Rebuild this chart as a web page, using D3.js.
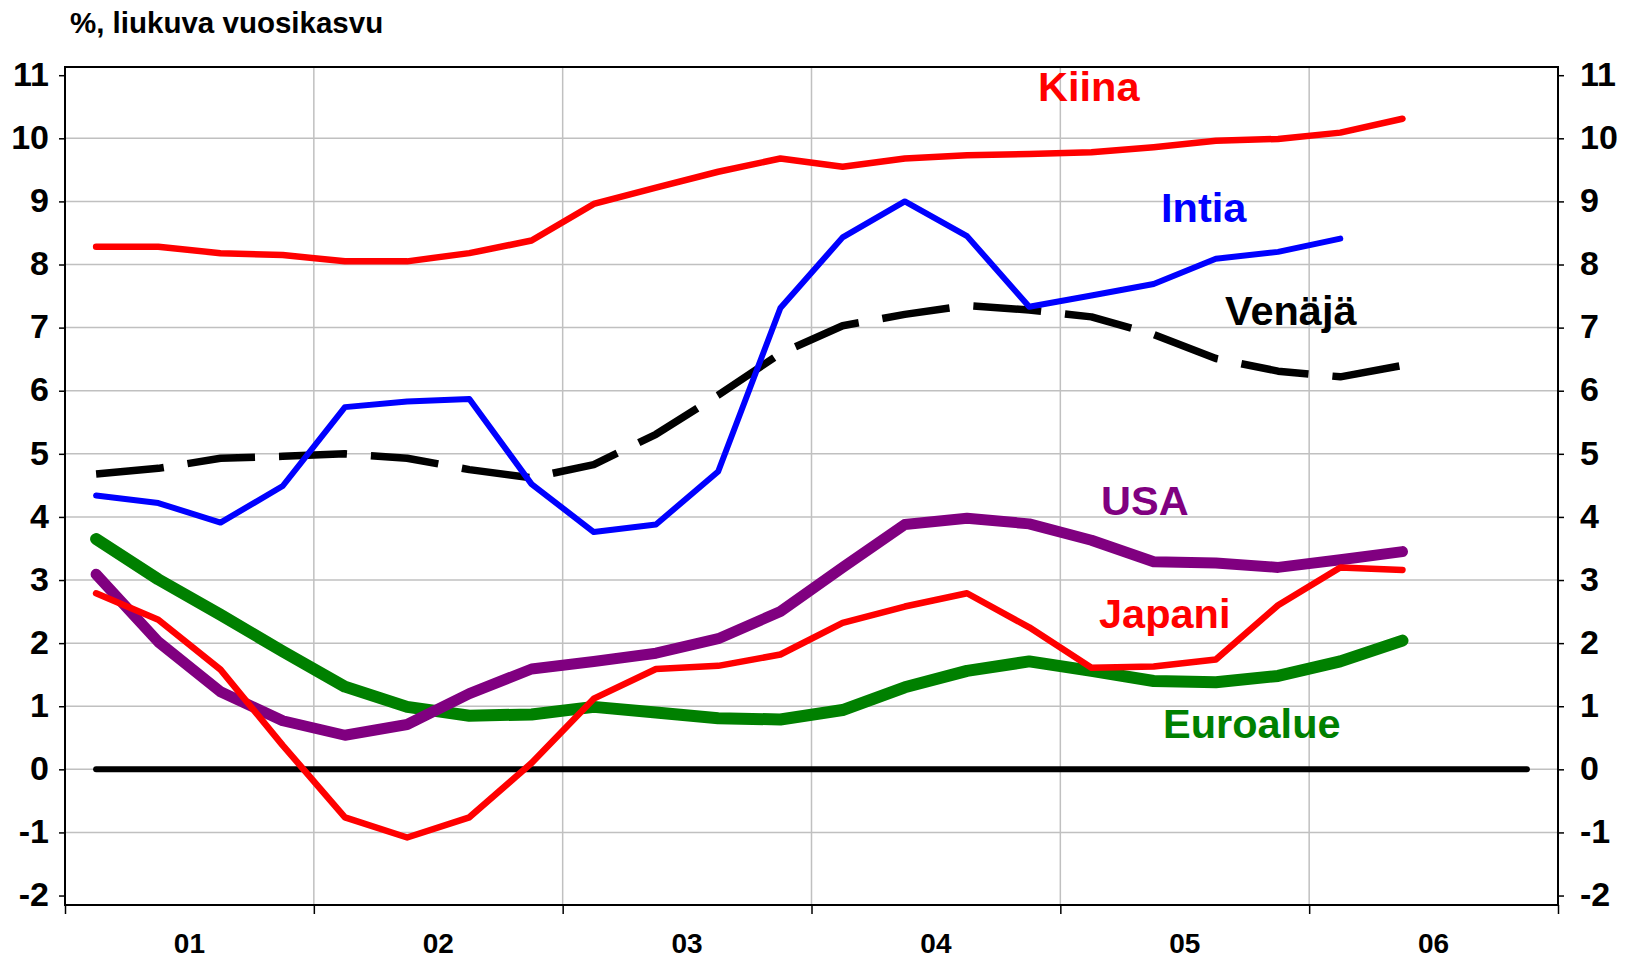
<!DOCTYPE html>
<html>
<head>
<meta charset="utf-8">
<script src="https://cdn.jsdelivr.net/npm/d3@7"></script>
<style>
  body { margin: 0; background: #fff; }
  svg text { font-family: "Liberation Sans", Arial, sans-serif; font-weight: bold; }
</style>
</head>
<body>
<div id="chart"></div>
<script>
// quarterly data, 2001Q1 .. 2006Q2
const quarters = ["2001Q1","2001Q2","2001Q3","2001Q4","2002Q1","2002Q2","2002Q3","2002Q4",
                  "2003Q1","2003Q2","2003Q3","2003Q4","2004Q1","2004Q2","2004Q3","2004Q4",
                  "2005Q1","2005Q2","2005Q3","2005Q4","2006Q1","2006Q2"];

const kiina    = [8.28, 8.28, 8.18, 8.15, 8.05, 8.05, 8.18, 8.38, 8.96, 9.22, 9.47, 9.68,
                  9.55, 9.68, 9.73, 9.75, 9.78, 9.86, 9.96, 9.99, 10.09, 10.31];
const intia    = [4.34, 4.22, 3.91, 4.49, 5.74, 5.83, 5.87, 4.52, 3.76, 3.88, 4.72, 7.31,
                  8.43, 9.0, 8.45, 7.33, 7.51, 7.69, 8.09, 8.20, 8.41];
const venaja   = [4.68, 4.77, 4.93, 4.96, 5.0, 4.93, 4.75, 4.62, 4.83, 5.31, 5.93, 6.59,
                  7.03, 7.21, 7.35, 7.28, 7.17, 6.89, 6.51, 6.31, 6.22, 6.40];
const usa      = [3.09, 2.02, 1.23, 0.77, 0.54, 0.71, 1.20, 1.59, 1.71, 1.84, 2.07, 2.50,
                  3.20, 3.88, 3.98, 3.89, 3.63, 3.29, 3.27, 3.20, 3.32, 3.45];
const japani   = [2.79, 2.37, 1.58, 0.38, -0.76, -1.08, -0.76, 0.10, 1.12, 1.59, 1.64, 1.82,
                  2.32, 2.58, 2.79, 2.25, 1.61, 1.63, 1.74, 2.60, 3.20, 3.16];
const euroalue = [3.65, 3.01, 2.45, 1.87, 1.31, 0.99, 0.85, 0.87, 0.99, 0.90, 0.81, 0.79,
                  0.94, 1.30, 1.56, 1.71, 1.56, 1.40, 1.38, 1.48, 1.71, 2.04];

const zeroLine = [["2001Q1", 0], ["2006Q4", 0]];
const years = [2001, 2002, 2003, 2004, 2005, 2006];
const yearLabels = ["01", "02", "03", "04", "05", "06"];
const yTicks = [-2, -1, 0, 1, 2, 3, 4, 5, 6, 7, 8, 9, 10, 11];

const width = 1628, height = 960;
const plotL = 65, plotR = 1558, plotT = 67, plotB = 905;

const svg = d3.select("#chart").append("svg")
    .attr("width", width).attr("height", height);

const x = d3.scaleLinear().domain([2001, 2007]).range([plotL, plotR]);
const y = d3.scaleLinear().domain([-2.15, 11.13]).range([plotB, plotT]);

// quarter label -> position in the middle of the quarter
function qx(q){
    let yr = +q.slice(0, 4), n = +q.slice(5);
    return x(yr + (n - 0.5) / 4);
}

// gridlines
svg.append("g").selectAll("line").data(yTicks.filter(d => d > -2 && d < 11)).join("line")
    .attr("x1", plotL).attr("x2", plotR).attr("y1", d => y(d)).attr("y2", d => y(d))
    .attr("stroke", "#c0c0c0").attr("stroke-width", 1.5);
svg.append("g").selectAll("line").data(years.slice(1)).join("line")
    .attr("x1", d => x(d)).attr("x2", d => x(d)).attr("y1", plotT).attr("y2", plotB)
    .attr("stroke", "#c0c0c0").attr("stroke-width", 1.5);

// axes (plain hyphen for negatives, like the original)
const fmt = d => String(d);
const axisLeft = d3.axisLeft(y).tickValues(yTicks).tickSize(6).tickPadding(10).tickFormat(fmt);
const axisRight = d3.axisRight(y).tickValues(yTicks).tickSize(6).tickPadding(16).tickFormat(fmt);
const axisBottom = d3.axisBottom(x).tickValues(years.concat([2007])).tickSize(9).tickFormat("");

function styleAxis(g){
    g.select(".domain").remove();
    g.selectAll(".tick line").attr("stroke", "#000").attr("stroke-width", 1.5);
    g.selectAll(".tick text").attr("fill", "#000").style("font-size", "34px");
}
svg.append("g").attr("transform", `translate(${plotL},0)`).call(axisLeft).call(styleAxis)
    .selectAll(".tick text").attr("dy", "0.3em");
svg.append("g").attr("transform", `translate(${plotR},0)`).call(axisRight).call(styleAxis)
    .selectAll(".tick text").attr("dy", "0.3em");
svg.append("g").attr("transform", `translate(0,${plotB})`).call(axisBottom).call(styleAxis);

svg.append("g").selectAll("text").data(years).join("text")
    .attr("x", d => x(d + 0.5)).attr("y", 953)
    .attr("text-anchor", "middle").style("font-size", "28px")
    .text((d, i) => yearLabels[i]);

// frame
svg.append("rect").attr("x", plotL).attr("y", plotT)
    .attr("width", plotR - plotL).attr("height", plotB - plotT)
    .attr("fill", "none").attr("stroke", "#000").attr("stroke-width", 2);

svg.append("text").attr("x", 70).attr("y", 33).style("font-size", "29.5px")
    .text("%, liukuva vuosikasvu");

// series lines
const line = d3.line().x(d => qx(d[0])).y(d => y(d[1]));
function pairs(values){ return values.map((v, i) => [quarters[i], v]); }

const series = [
    {values: zeroLine, color: "#000000", w: 6, dash: null},
    {values: pairs(euroalue), color: "#008000", w: 12, dash: null},
    {values: pairs(usa), color: "#800080", w: 11, dash: null},
    {values: pairs(venaja), color: "#000000", w: 7.5, dash: "68,24"},
    {values: pairs(japani), color: "#ff0000", w: 6.5, dash: null},
    {values: pairs(intia), color: "#0000ff", w: 6, dash: null},
    {values: pairs(kiina), color: "#ff0000", w: 6.5, dash: null}
];

svg.append("g").selectAll("path").data(series).join("path")
    .attr("d", d => line(d.values))
    .attr("fill", "none")
    .attr("stroke", d => d.color)
    .attr("stroke-width", d => d.w)
    .attr("stroke-dasharray", d => d.dash)
    .attr("stroke-linejoin", "round")
    .attr("stroke-linecap", d => d.dash ? "butt" : "round");

// series names
const labels = [
    {text: "Kiina", x: 1038, y: 101, color: "#ff0000"},
    {text: "Intia", x: 1161, y: 222, color: "#0000ff"},
    {text: "Venäjä", x: 1225, y: 325, color: "#000000"},
    {text: "USA", x: 1101, y: 515, color: "#800080"},
    {text: "Japani", x: 1099, y: 628, color: "#ff0000"},
    {text: "Euroalue", x: 1163, y: 738, color: "#008000"}
];
svg.append("g").selectAll("text").data(labels).join("text")
    .attr("x", d => d.x).attr("y", d => d.y)
    .attr("fill", d => d.color).style("font-size", "41.5px")
    .text(d => d.text);
</script>
</body>
</html>
